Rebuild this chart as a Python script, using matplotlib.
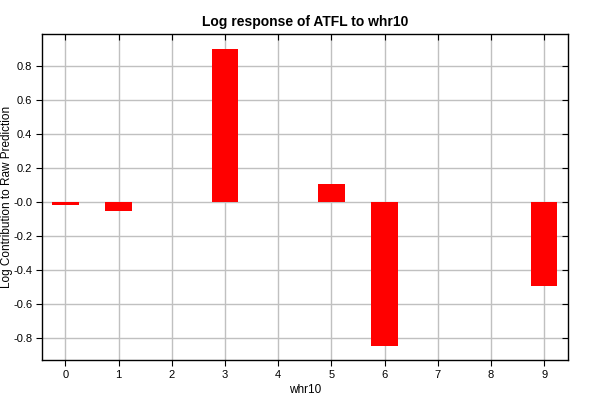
import numpy as np
import matplotlib
matplotlib.use("Agg")
import matplotlib.pyplot as plt

plt.rcParams['font.family'] = ['Liberation Sans', 'DejaVu Sans']

categories = [0, 1, 2, 3, 4, 5, 6, 7, 8, 9]
bar_x = [0, 1, 3, 5, 6, 9]
bar_values = [-0.016, -0.051, 0.902, 0.106, -0.847, -0.493]
y_ticks = [-0.8, -0.6, -0.4, -0.2, 0.0, 0.2, 0.4, 0.6, 0.8]
y_tick_labels = ["-0.8", "-0.6", "-0.4", "-0.2", "-0.0", "0.2", "0.4", "0.6", "0.8"]

fig = plt.figure(figsize=(6, 4), dpi=100)
ax = fig.add_axes([42 / 600, 1 - 360 / 400, 526 / 600, 326 / 400])

ax.bar(bar_x, bar_values, width=0.5, color='#ff0000', zorder=3)

ax.set_xlim(-0.44, 9.45)
ax.set_ylim(-0.93, 0.99)
ax.set_xticks(categories)
ax.set_yticks(y_ticks)
ax.set_yticklabels(y_tick_labels)
ax.grid(color='#c0c0c0', linewidth=1, zorder=0)

ax.tick_params(axis='both', labelsize=8, length=4, pad=3, color='black')
ax.tick_params(top=True, right=True)
for t in ax.xaxis.get_major_ticks():
    t.tick2line.set_marker(3)  # inward top ticks
for t in ax.yaxis.get_major_ticks():
    t.tick2line.set_marker(0)  # inward right ticks

for s in ax.spines.values():
    s.set_linewidth(1)
    s.set_color('black')

ax.set_title("Log response of ATFL to whr10", fontsize=10, fontweight='bold', pad=6)
ax.set_xlabel("whr10", fontsize=8.5, labelpad=3)
ax.set_ylabel("Log Contribution to Raw Prediction", fontsize=8.5, va='center')
ax.yaxis.set_label_coords(-0.066, 0.5)

fig.savefig("out.png", dpi=100)
